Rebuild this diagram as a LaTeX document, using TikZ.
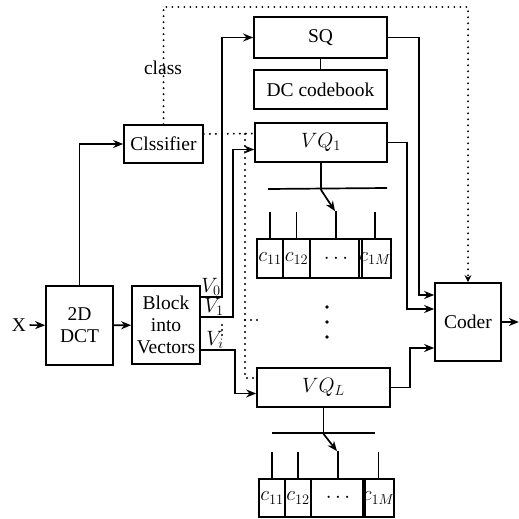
\documentclass[tikz,border=0pt]{standalone}
\usepackage{fontspec}
\setmainfont{Liberation Serif}
\usetikzlibrary{arrows.meta,calc}
\begin{document}
\begin{tikzpicture}[x=1pt,y=-1pt,
  font=\fontsize{19.5}{22}\selectfont,
  bx/.style={draw,line width=1.7pt,inner sep=0pt,align=center},
  ln/.style={line width=1.7pt},
  arr/.style={line width=1.7pt,-{Stealth[length=10pt,width=8pt]}},
  dot/.style={line width=2.2pt,line cap=round,dash pattern=on 0pt off 6pt},
  darr/.style={dot,-{Stealth[length=7pt,width=7pt]}},
  cl/.style={font=\fontsize{21}{22}\selectfont},
  vl/.style={font=\fontsize{20}{20}\selectfont,inner sep=0pt}]
\useasboundingbox (0,0) rectangle (519,519);
% boxes
\node[bx,minimum width=79pt,minimum height=38pt] (clf) at (163.5,144) {Clssifier};
\node[bx,minimum width=67pt,minimum height=79pt] (dct) at (79.5,325.5) {2D\\DCT};
\node[bx,minimum width=68pt,minimum height=78pt] (blk) at (166,325) {Block\\into\\Vectors};
\node[bx,minimum width=133pt,minimum height=41pt] (sq) at (320.5,37.5) {SQ};
\node[bx,minimum width=133pt,minimum height=39pt] (dc) at (320.5,89.5) {DC codebook};
\node[bx,minimum width=132pt,minimum height=39pt] (vq1) at (321,142.5) {$VQ_1$};
\node[bx,minimum width=133pt,minimum height=39pt] (vqL) at (323.5,387.5) {$VQ_L$};
\node[bx,minimum width=66pt,minimum height=78pt] (coder) at (468,322) {Coder};
\node (X) at (19,325) {X};
\node at (163,68) {class};
% codebook 1
\node[bx,minimum width=26pt,minimum height=39pt,cl] (a11) at (270,258.5) {$c_{11}$};
\node[bx,minimum width=27pt,minimum height=39pt,cl] (a12) at (296.5,258.5) {$c_{12}$};
\node[bx,minimum width=52pt,minimum height=39pt] (d1) at (336,258.5) {$\cdots$};
\node[bx,minimum width=26pt,minimum height=39pt,cl] (a1M) at (375,258.5) {$c_{1M}$};
% codebook L
\node[bx,minimum width=26pt,minimum height=38pt,cl] (b11) at (272,498) {$c_{11}$};
\node[bx,minimum width=26pt,minimum height=38pt,cl] (b12) at (298,498) {$c_{12}$};
\node[bx,minimum width=54pt,minimum height=38pt] (dL) at (338,498) {$\cdots$};
\node[bx,minimum width=27pt,minimum height=38pt,cl] (b1M) at (378.5,498) {$c_{1M}$};
% V labels
\node[vl] at (211,287) {$V_0$};
\node[vl] at (214,307) {$V_1$};
\node[vl] at (215,340) {$V_i$};
% coordinates
\coordinate (top) at (163.5,7);
\coordinate (v0) at (200,297);
\coordinate (v1) at (200,317);
\coordinate (vi) at (200,350);
\coordinate (dtop) at (245,134);
\coordinate (dbot) at (245,378);
\coordinate (dmid) at (245,320);
% main connectors
\draw[arr] (X) -- (dct);
\draw[arr] (dct.north) |- (clf.west);
\draw[arr] (dct) -- (blk);
\draw[arr] (v0) -- ++(22,0) |- (sq.west);
\draw[arr] (v1) -- ++(33,0) |- ($(vq1.west)+(0,7)$);
\draw[arr] (vi) -- ++(35,0) |- ($(vqL.west)+(0,6)$);
\draw[ln] (sq) -- (dc);
% classifier dotted
\draw[dot] ($(clf.east)+(0,-10)$) -- ($(vq1.west)+(0,-9)$);
\draw[dot] (dtop) -- (dbot) -- ($(vqL.west)+(0,-9.5)$);
\draw[dot] (dmid) -- ++(16,0);
\draw[darr] (clf.north) -- (top) -| (coder.north);
% outputs to coder
\draw[arr] (sq.east) -- ++(31,0) |- ($(coder.west)+(0,-27)$);
\draw[arr] (vq1.east) -- ++(19,0) |- ($(coder.west)+(0,-13)$);
\draw[arr] (vqL.east) -- ++(19,0) |- ($(coder.west)+(0,26)$);
\draw[arr] (coder.east) -- ++(17,0);
% switch 1
\draw[ln] (vq1.south) -- ++(0,27) coordinate (s1);
\draw[ln] (268,189) -- (387,188);
\draw[arr] (s1) -- ($(d1.north)+(-1,-27)$);
\draw[ln] (d1.north) -- ++(0,-27);
\foreach \n in {a11,a12,a1M} \draw[ln] (\n.north) -- ++(0,-26);
% switch L
\draw[ln] (vqL.south) -- ++(0,26) coordinate (sL);
\draw[ln] (272,433) -- (375,433);
\draw[arr] (sL) -- ($(dL.north)+(-1,-27)$);
\draw[ln] (dL.north) -- ++(0,-27);
\foreach \n in {b11,b12,b1M} \draw[ln] (\n.north) -- ++(0,-26);
% vertical dots
\foreach \y in {307,322,337} \fill (327,\y) circle (1.8);
\foreach \y in {325,330,335} \fill (222,\y) circle (1.1);
\end{tikzpicture}
\end{document}
